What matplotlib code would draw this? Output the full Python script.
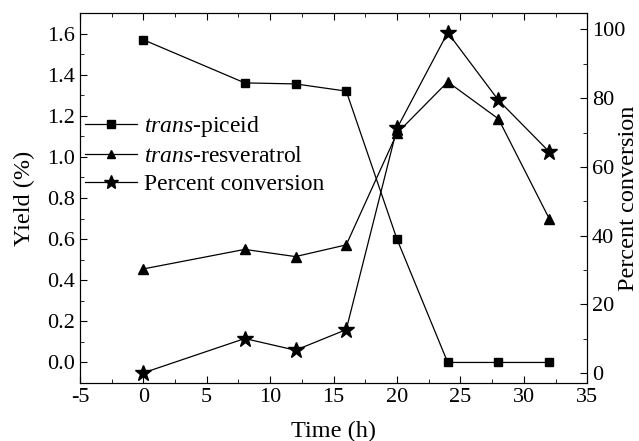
import matplotlib
matplotlib.use("Agg")
import matplotlib.pyplot as plt
from matplotlib.ticker import MultipleLocator, FormatStrFormatter

plt.rcParams['font.family'] = ['Liberation Serif', 'DejaVu Serif']
plt.rcParams['mathtext.fontset'] = 'custom'
plt.rcParams['mathtext.rm'] = 'Liberation Serif'
plt.rcParams['mathtext.it'] = 'Liberation Serif:italic'
plt.rcParams['font.size'] = 16
plt.rcParams['axes.unicode_minus'] = False

# data
time_h = [0, 8, 12, 16, 20, 24, 28, 32]
piceid = [1.57, 1.36, 1.355, 1.32, 0.60, 0.0, 0.0, 0.0]
resveratrol = [0.455, 0.55, 0.515, 0.572, 1.115, 1.365, 1.185, 0.70]
conversion = [0.0, 10.0, 6.6, 12.6, 71.2, 99.1, 79.4, 64.4]

fig = plt.figure(figsize=(6.39, 4.41), dpi=100)
ax = fig.add_axes([0.125, 0.1315, 0.794, 0.839])
ax2 = ax.twinx()

l1, = ax.plot(time_h, piceid, 'k-', marker='s', markersize=6, lw=0.9,
              label=r'$\it{trans}$-piceid')
l2, = ax.plot(time_h, resveratrol, 'k-', marker='^', markersize=7, lw=0.9,
              label=r'$\it{trans}$-resveratrol')
l3, = ax2.plot(time_h, conversion, 'k-', marker='*', markersize=12, lw=0.9,
               label='Percent conversion')

ax.set_xlim(-5, 35)
ax.set_ylim(-0.1, 1.7)
ax2.set_ylim(-2.95, 104.8)

ax.xaxis.set_major_locator(MultipleLocator(5))
ax.xaxis.set_minor_locator(MultipleLocator(2.5))
ax.yaxis.set_major_locator(MultipleLocator(0.2))
ax.yaxis.set_minor_locator(MultipleLocator(0.1))
ax.yaxis.set_major_formatter(FormatStrFormatter('%.1f'))
ax2.yaxis.set_major_locator(MultipleLocator(20))
ax2.yaxis.set_minor_locator(MultipleLocator(10))

ax.tick_params(which='both', direction='in', top=True, right=False)
ax.tick_params(which='major', length=5)
ax.tick_params(which='minor', length=3)
ax2.tick_params(which='both', direction='in')
ax2.tick_params(which='major', length=5)
ax2.tick_params(which='minor', length=3)

ax.set_xlabel('Time (h)', labelpad=10, fontsize=17.5)
ax.set_ylabel('Yield (%)', labelpad=9, fontsize=17.5)
ax2.set_ylabel('Percent conversion', fontsize=17.5, va='center')
ax2.yaxis.set_label_coords(1.082, 0.5)

ax.legend(handles=[l1, l2, l3], loc='upper left', bbox_to_anchor=(-0.008, 0.752),
          frameon=False, handlelength=2.2, handletextpad=0.3,
          labelspacing=0.28, borderaxespad=0, fontsize=17, markerscale=0.85)

fig.savefig('out.png', dpi=100)
